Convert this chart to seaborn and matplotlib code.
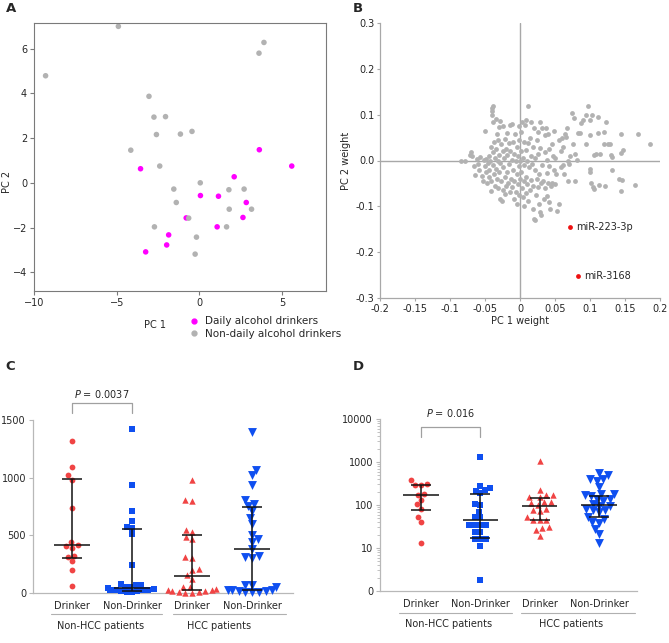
import numpy as np
import pandas as pd
import matplotlib
matplotlib.use('Agg')
import matplotlib.pyplot as plt
from matplotlib.ticker import FixedLocator, LogLocator, NullFormatter
import seaborn as sns

# ---- panel A: PCA scores ----
a_daily_x = [3.62, 5.58, -3.56, 2.1, 0.06, 1.15, 2.83, -0.8, 2.63, 1.07, -1.86, -1.98, -3.25]
a_daily_y = [1.48, 0.75, 0.63, 0.27, -0.57, -0.6, -0.88, -1.57, -1.55, -1.97, -2.33, -2.78, -3.09]
a_other_x = [-4.9, -9.3, 3.9, 3.6, -3.05, -2.75, -2.05, -2.6, -1.15, -0.45, -4.15, -2.4,
             0.05, -1.55, -1.4, -0.65, 1.78, 2.7, 1.8, 3.15, 1.64, -2.72, -0.18, -0.26]
a_other_y = [7.0, 4.79, 6.28, 5.8, 3.87, 2.94, 2.96, 2.16, 2.18, 2.3, 1.46, 0.75,
             0.0, -0.28, -0.88, -1.58, -0.31, -0.28, -1.18, -1.18, -1.97, -1.97, -2.43, -3.19]

# ---- panel B: PC loadings ----
b_pts = [
    (-0.084, 0.0), (-0.079, 0.0), (-0.072, 0.013), (-0.070, 0.018), (-0.068, 0.01), (-0.066, -0.012),
    (-0.064, -0.032), (-0.062, 0.003), (-0.060, -0.008), (-0.058, -0.02),
    (-0.057, 0.008), (-0.055, -0.033), (-0.053, -0.045), (-0.052, 0.002), (-0.050, -0.012), (-0.050, 0.065),
    (-0.049, -0.025), (-0.048, 0.004), (-0.047, -0.05), (-0.046, -0.005), (-0.045, -0.035), (-0.045, 0.01),
    (-0.044, -0.02), (-0.043, 0.0), (-0.042, -0.045), (-0.042, 0.03), (-0.041, -0.067), (-0.040, 0.115),
    (-0.040, 0.108), (-0.040, 0.100), (-0.039, 0.118), (-0.039, -0.01), (-0.038, 0.083), (-0.038, 0.018),
    (-0.037, -0.03), (-0.037, 0.04), (-0.036, 0.005), (-0.036, -0.055), (-0.035, 0.09), (-0.035, -0.018),
    (-0.034, 0.025), (-0.033, -0.04), (-0.033, 0.058), (-0.032, 0.0), (-0.032, -0.06), (-0.031, 0.045),
    (-0.030, -0.025), (-0.030, 0.012), (-0.030, 0.073),
    (-0.029, -0.085), (-0.028, 0.087), (-0.028, -0.005), (-0.027, 0.035), (-0.027, -0.045), (-0.026, -0.088),
    (-0.025, 0.02), (-0.025, -0.065), (-0.024, 0.075), (-0.024, -0.015), (-0.023, 0.005), (-0.022, -0.035),
    (-0.022, 0.048), (-0.021, -0.072), (-0.020, 0.025), (-0.020, -0.055), (-0.019, 0.012), (-0.018, -0.025),
    (-0.018, 0.06), (-0.017, -0.05), (-0.016, 0.038), (-0.016, -0.008), (-0.015, -0.068), (-0.015, 0.078),
    (-0.014, 0.02), (-0.013, -0.04), (-0.012, 0.08), (-0.012, 0.002), (-0.011, -0.058), (-0.010, 0.04),
    (-0.010, -0.02), (-0.009, -0.085), (-0.008, 0.015), (-0.008, -0.045), (-0.007, 0.058), (-0.006, -0.002),
    (-0.006, -0.068), (-0.005, 0.03), (-0.005, -0.03), (-0.004, -0.095), (-0.003, 0.01), (-0.003, -0.052),
    (-0.002, 0.075), (-0.002, -0.012), (-0.001, 0.045), (-0.001, -0.075), (0.0, 0.0), (0.0, -0.04),
    (0.001, 0.062), (0.002, 0.02), (0.002, -0.025), (0.003, 0.083), (0.003, -0.06), (0.004, 0.005),
    (0.004, -0.08), (0.005, 0.04), (0.005, -0.045), (0.006, -0.01), (0.006, -0.1), (0.007, 0.078),
    (0.008, 0.022), (0.008, -0.07), (0.009, 0.088), (0.009, -0.035), (0.010, 0.0), (0.010, -0.052),
    (0.011, 0.038), (0.012, 0.119), (0.012, -0.088), (0.013, -0.015), (0.014, 0.05), (0.014, -0.065),
    (0.015, 0.01),
    (0.016, 0.085), (0.016, -0.042), (0.017, -0.008), (0.018, 0.03), (0.018, -0.105), (0.019, -0.055),
    (0.020, 0.072), (0.020, -0.128), (0.021, -0.02), (0.022, 0.005), (0.022, -0.13), (0.023, -0.075),
    (0.024, 0.045), (0.024, -0.04), (0.025, 0.062), (0.025, -0.058), (0.026, 0.015), (0.027, -0.095),
    (0.027, -0.03), (0.028, 0.083), (0.029, 0.028), (0.029, -0.112), (0.030, -0.05), (0.030, -0.118),
    (0.031, -0.01), (0.032, 0.07), (0.033, -0.045), (0.034, -0.085), (0.035, 0.018), (0.036, 0.055),
    (0.036, -0.06), (0.037, 0.072), (0.038, -0.028), (0.039, 0.002), (0.039, -0.078), (0.040, 0.058),
    (0.040, -0.05), (0.041, -0.09), (0.042, -0.012), (0.042, 0.025), (0.043, -0.105), (0.044, -0.055),
    (0.045, 0.035),
    (0.046, -0.048), (0.047, 0.01), (0.048, -0.02), (0.049, 0.065), (0.050, -0.052), (0.050, 0.005),
    (0.052, -0.03), (0.053, -0.11), (0.055, 0.045), (0.056, -0.095), (0.058, -0.015), (0.059, 0.02),
    (0.060, 0.05),
    (0.061, -0.01), (0.062, 0.03), (0.063, -0.03), (0.064, 0.057), (0.066, 0.052), (0.067, 0.072),
    (0.068, -0.045), (0.069, 0.0), (0.070, -0.008), (0.072, 0.01), (0.074, 0.103), (0.075, 0.035),
    (0.077, 0.092), (0.078, -0.045), (0.079, 0.015),
    (0.082, 0.002), (0.083, 0.061), (0.085, 0.06), (0.087, 0.081), (0.090, 0.088), (0.094, 0.099),
    (0.094, 0.035), (0.097, 0.119), (0.1, 0.088), (0.1, 0.055), (0.1, -0.018), (0.1, -0.026),
    (0.102, -0.05), (0.103, 0.1), (0.104, -0.058), (0.105, -0.062), (0.105, 0.012), (0.109, 0.015),
    (0.111, 0.094), (0.112, 0.059), (0.113, -0.054), (0.114, 0.015), (0.12, 0.063), (0.12, 0.037),
    (0.121, -0.055), (0.123, 0.084), (0.125, 0.037), (0.128, 0.035), (0.13, 0.012), (0.132, 0.008),
    (0.131, -0.021), (0.142, -0.04), (0.144, 0.057), (0.144, 0.017), (0.144, -0.066), (0.146, -0.042),
    (0.147, 0.023), (0.164, -0.053), (0.168, 0.057), (0.185, 0.036),
]
b_mir_names = ['miR-223-3p', 'miR-3168']
b_mir_x = [0.0713, 0.0833]
b_mir_y = [-0.146, -0.251]

# ---- panels C and D: expression per group ----
group_keys = ['nh_d', 'nh_n', 'h_d', 'h_n']
group_ticks = ['Drinker', 'Non-Drinker', 'Drinker', 'Non-Drinker']
group_colors = ['#f04444', '#0f4ff0', '#f04444', '#0f4ff0']
group_markers = ['o', 's', '^', 'v']
marker_pt = {'o': 5.8, 's': 5.2, '^': 6.4, 'v': 6.4}

c_values = [
    [1318, 1095, 1019, 979, 738, 414, 394, 405, 443, 313, 324, 275, 197, 64],
    [1422, 935, 712, 620, 570, 562, 515, 246, 67, 52, 81, 72, 52, 29, 23, 17, 17,
     23, 29, 46, 35, 9, 9],
    [979, 796, 805, 544, 472, 486, 530, 307, 313, 211, 197, 159, 124, 52, 38, 23, 17, 17,
     29, 52, 9, 0, 0, 9],
    [1393, 1066, 1022, 935, 776, 805, 753, 712, 654, 602, 501, 443, 466, 379, 313, 307, 318,
     67, 67, 52, 29, 17, 9, 9, 9, 17, 29, 29],
]
c_median = [413, 43, 150, 380]
c_q1 = [300, 14, 29, 27]
c_q3 = [990, 553, 500, 745]

d_values = [
    [310, 299, 382, 288, 134, 175, 180, 104, 81, 52, 40, 13],
    [1334, 251, 217, 224, 282, 188, 102, 106, 52, 52, 68, 35, 35, 35, 35, 23, 23, 16, 16, 16, 11, 1.77],
    [1070, 228, 174, 152, 152, 174, 116, 116, 110, 100, 81, 72, 75, 52, 44, 44, 44, 29, 30, 26, 19.5],
    [550, 408, 510, 410, 370, 268, 182, 174, 182, 165, 138, 126, 138, 107, 97, 97, 75, 68, 75, 81,
     52, 48, 38, 40, 28, 21, 13],
]
d_median = [175, 44, 95, 101]
d_q1 = [75, 17, 45, 52]
d_q3 = [299, 182, 146, 166]

sns.set_style('ticks')
plt.rcParams['font.family'] = ['DejaVu Sans']
plt.rcParams['font.size'] = 7

fig = plt.figure(figsize=(6.69, 6.43), dpi=100)
W, H = 669, 643


def px_axes(l, t, r, b):
    return fig.add_axes([l / W, 1 - b / H, (r - l) / W, (b - t) / H])


# ---------------- A ----------------
axA = px_axes(34, 23, 326, 291)
dfA = pd.DataFrame({
    'pc1': a_daily_x + a_other_x,
    'pc2': a_daily_y + a_other_y,
    'grp': ['Daily alcohol drinkers'] * len(a_daily_x) + ['Non-daily alcohol drinkers'] * len(a_other_x),
})
sns.scatterplot(data=dfA, x='pc1', y='pc2', hue='grp',
                hue_order=['Non-daily alcohol drinkers', 'Daily alcohol drinkers'],
                palette={'Daily alcohol drinkers': '#ff00ff', 'Non-daily alcohol drinkers': '#b2b2b2'},
                s=16, linewidth=0, ax=axA, legend=False)
axA.set_xlim(-10, 7.65)
axA.set_ylim(-4.84, 7.15)
axA.set_xticks([-10, -5, 0, 5])
axA.set_yticks([-4, -2, 0, 2, 4, 6])
for sp in axA.spines.values():
    sp.set_color('#7a7a7a')
    sp.set_linewidth(0.8)
axA.tick_params(length=3, width=0.8, color='#7a7a7a', labelsize=7, pad=2)
axA.set_xlabel('PC 1', fontsize=7)
axA.xaxis.set_label_coords(0.414, -0.11)
axA.set_ylabel('PC 2', fontsize=7)
axA.yaxis.set_label_coords(-0.074, 0.407)
handles = [plt.Line2D([], [], marker='o', ls='', color=c, markersize=3.5)
           for c in ['#ff00ff', '#b2b2b2']]
axA.legend(handles, ['Daily alcohol drinkers', 'Non-daily alcohol drinkers'],
           loc='upper left', bbox_to_anchor=(0.535, -0.095), frameon=False, fontsize=7.5,
           handlelength=0.8, handletextpad=0.6, labelspacing=0.25, borderpad=0, borderaxespad=0)

# ---------------- B ----------------
axB = px_axes(380, 23, 660, 298)
dfB = pd.DataFrame(b_pts, columns=['w1', 'w2'])
axB.axhline(0, color='#a8a8a8', lw=1, zorder=1)
axB.axvline(0, color='#a8a8a8', lw=1, zorder=1)
sns.scatterplot(data=dfB, x='w1', y='w2', color='#b2b2b2', s=12, linewidth=0, ax=axB, zorder=2)
sns.scatterplot(x=b_mir_x, y=b_mir_y, color='#ee1111', s=12, linewidth=0, ax=axB, zorder=3)
for name, x, y in zip(b_mir_names, b_mir_x, b_mir_y):
    axB.text(x + 0.009, y, name, fontsize=7, va='center')
axB.set_xlim(-0.2, 0.2)
axB.set_ylim(-0.3, 0.3)
axB.set_xticks([-0.2, -0.15, -0.1, -0.05, 0, 0.05, 0.1, 0.15, 0.2])
axB.set_xticklabels(['-0.2', '-0.15', '-0.1', '-0.05', '0', '0.05', '0.1', '0.15', '0.2'])
axB.set_yticks([-0.3, -0.2, -0.1, 0, 0.1, 0.2, 0.3])
axB.set_yticklabels(['-0.3', '-0.2', '-0.1', '0.0', '0.1', '0.2', '0.3'])
sns.despine(ax=axB)
for sp in ['left', 'bottom']:
    axB.spines[sp].set_color('#a8a8a8')
    axB.spines[sp].set_linewidth(0.9)
axB.tick_params(length=2.5, width=0.8, color='#a8a8a8', labelsize=7, pad=1.5)
axB.set_xlabel('PC 1 weight', fontsize=7, labelpad=2)
axB.set_ylabel('PC 2 weight', fontsize=7, labelpad=3)


# ---------------- C and D ----------------
swarms = []  # (collection, final marker size) -- swarm is laid out tighter, then markers enlarged


def group_panel(ax, values, med, q1, q3, log=False):
    for key, vals, col, mk in zip(group_keys, values, group_colors, group_markers):
        sz = marker_pt[mk]
        sns.swarmplot(x=[key] * len(vals), y=vals, order=group_keys, color=col, marker=mk,
                      size=sz * 0.72, linewidth=0, ax=ax, log_scale=log, clip_on=False,
                      warn_thresh=1)
        swarms.append((ax.collections[-1], sz))
    for i in range(4):
        ax.hlines(med[i], i - 0.3, i + 0.3, color='#111111', lw=1.1, zorder=5)
        ax.hlines([q1[i], q3[i]], i - 0.17, i + 0.17, color='#111111', lw=1.1, zorder=5)
        ax.vlines(i, q1[i], q3[i], color='#111111', lw=1.1, zorder=5)
    ax.set_xticks(range(4))
    ax.set_xticklabels(group_ticks)
    sns.despine(ax=ax)
    for sp in ['left', 'bottom']:
        ax.spines[sp].set_color('#b8b8b8')
        ax.spines[sp].set_linewidth(0.9)
    ax.tick_params(axis='x', length=0, labelsize=7, pad=6)
    ax.tick_params(axis='y', length=3, width=0.8, color='#b8b8b8', labelsize=7, pad=2)
    ax.tick_params(axis='y', which='minor', length=2, width=0.6, color='#b8b8b8')
    ax.set_xlabel('')
    ax.set_ylabel('')


axC = px_axes(33, 420, 293, 593)
group_panel(axC, c_values, c_median, c_q1, c_q3)
axC.set_xlim(-0.65, 3.68)
axC.set_ylim(0, 1500)
axC.set_yticks([0, 500, 1000, 1500])
trC = axC.get_xaxis_transform()
for x0, x1 in [(-0.35, 1.5), (1.68, 3.57)]:
    axC.plot([x0, x1], [-0.121, -0.121], transform=trC, clip_on=False, color='#b0b0b0', lw=0.8)
axC.text(0.47, -0.19, 'Non-HCC patients', transform=trC, ha='center', va='center', fontsize=7)
axC.text(2.45, -0.19, 'HCC patients', transform=trC, ha='center', va='center', fontsize=7)
axC.plot([0, 0, 1, 1], [1560, 1650, 1650, 1560], color='#a0a0a0', lw=0.9, clip_on=False)
axC.text(0.5, 1725, r'$\it{P}$ = 0.0037', ha='center', va='center', fontsize=7)

axD = px_axes(380, 419, 637, 591)
group_panel(axD, d_values, d_median, d_q1, d_q3, log=True)
axD.set_xlim(-0.69, 3.64)
axD.set_ylim(1, 10000)
axD.yaxis.set_major_locator(FixedLocator([1, 10, 100, 1000, 10000]))
axD.set_yticklabels(['0', '10', '100', '1000', '10000'])
axD.yaxis.set_minor_locator(LogLocator(base=10, subs=np.arange(2, 10)))
axD.yaxis.set_minor_formatter(NullFormatter())
trD = axD.get_xaxis_transform()
for x0, x1 in [(-0.37, 1.53), (1.69, 3.61)]:
    axD.plot([x0, x1], [-0.128, -0.128], transform=trD, clip_on=False, color='#b0b0b0', lw=0.8)
axD.text(0.46, -0.192, 'Non-HCC patients', transform=trD, ha='center', va='center', fontsize=7)
axD.text(2.53, -0.192, 'HCC patients', transform=trD, ha='center', va='center', fontsize=7)
axD.plot([0, 0, 1, 1], [3800, 6600, 6600, 3800], color='#a0a0a0', lw=0.9, clip_on=False)
axD.text(0.5, 13500, r'$\it{P}$ = 0.016', ha='center', va='center', fontsize=7)

# panel letters
for lab, x, y in [('A', 6, 8), ('B', 353, 8), ('C', 5, 366), ('D', 353, 366)]:
    fig.text(x / W, 1 - y / H, lab, fontsize=9.5, fontweight='bold', ha='left', va='center')

# lay out the swarms once, then freeze positions and enlarge the markers
fig.canvas.draw()
for pts, sz in swarms:
    pts.__dict__.pop('draw', None)
    pts.set_sizes([sz ** 2])

fig.savefig('out.png', dpi=100)
